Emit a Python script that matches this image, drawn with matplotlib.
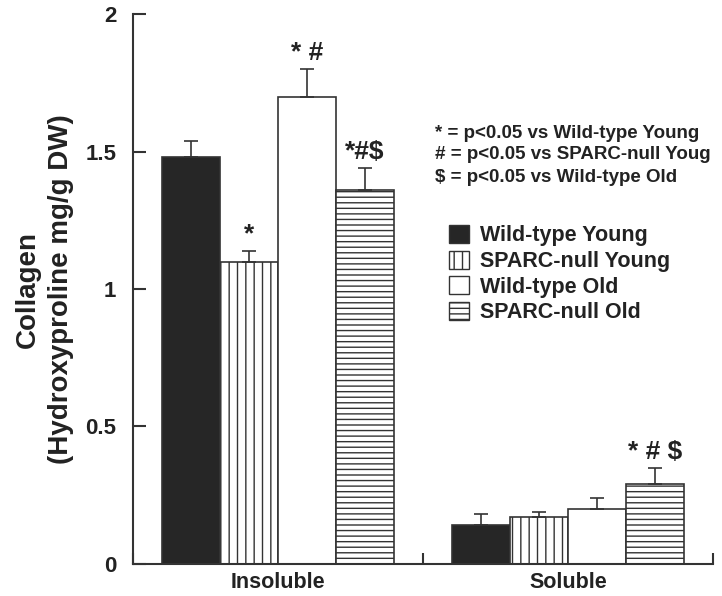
import matplotlib
matplotlib.use("Agg")
import matplotlib.pyplot as plt
import numpy as np
from matplotlib.patches import Patch

plt.rcParams['font.family'] = ['Liberation Sans', 'DejaVu Sans']
plt.rcParams['font.weight'] = 'bold'
plt.rcParams['hatch.linewidth'] = 1.0
plt.rcParams['hatch.color'] = '#333333'

categories = ["Insoluble", "Soluble"]
groups = ["Wild-type Young", "SPARC-null Young", "Wild-type Old", "SPARC-null Old"]
means = {
    "Wild-type Young":  [1.48, 0.14],
    "SPARC-null Young": [1.10, 0.17],
    "Wild-type Old":    [1.70, 0.20],
    "SPARC-null Old":   [1.36, 0.29],
}
errors = {
    "Wild-type Young":  [0.06, 0.04],
    "SPARC-null Young": [0.04, 0.02],
    "Wild-type Old":    [0.10, 0.04],
    "SPARC-null Old":   [0.08, 0.06],
}
marks = {
    "Wild-type Young":  ["", ""],
    "SPARC-null Young": ["*", ""],
    "Wild-type Old":    ["* #", ""],
    "SPARC-null Old":   ["*#$", "* # $"],
}
styles = {
    "Wild-type Young":  dict(facecolor="#262626", hatch=None),
    "SPARC-null Young": dict(facecolor="white", hatch="||"),
    "Wild-type Old":    dict(facecolor="white", hatch=None),
    "SPARC-null Old":   dict(facecolor="white", hatch="---"),
}
stats_note = ["* = p<0.05 vs Wild-type Young",
              "# = p<0.05 vs SPARC-null Youg",
              "$ = p<0.05 vs Wild-type Old"]

edge = "#333333"
txt = "#222222"
fig = plt.figure(figsize=(7.22, 5.96), dpi=100)
ax = fig.add_axes([0.184, 0.0537, 0.8035, 0.9228])

x = np.arange(len(categories))
width = 0.2
offsets = [-0.3, -0.1, 0.1, 0.3]
for g, off in zip(groups, offsets):
    st = styles[g]
    ax.bar(x + off, means[g], width, facecolor=st["facecolor"], edgecolor=edge,
           hatch=st["hatch"], linewidth=1.2, zorder=2)
    ax.errorbar(x + off, means[g], yerr=[np.zeros(len(x)), errors[g]], fmt='none',
                ecolor=edge, elinewidth=1.2, capsize=5, capthick=1.2, zorder=3)
    for xi, m, e, t in zip(x + off, means[g], errors[g], marks[g]):
        if t:
            ax.text(xi, m + e + 0.015, t, ha='center', va='bottom', fontsize=19,
                    fontweight='bold', color=txt)

ax.set_xlim(-0.5, 1.5)
ax.set_ylim(0, 2)
ax.set_yticks([0, 0.5, 1, 1.5, 2])
ax.set_yticklabels(["0", "0.5", "1", "1.5", "2"])
ax.set_xticks([-0.5, 0.5, 1.5])
ax.set_xticklabels(["", "", ""])
ax.set_xticks(x, minor=True)
ax.set_xticklabels(categories, minor=True)
ax.tick_params(axis='x', which='minor', length=0, labelsize=15.5, pad=6)
ax.tick_params(axis='x', which='major', direction='in', length=8, width=1.5, color=edge)
ax.tick_params(axis='y', direction='in', length=9, width=1.5, color=edge, labelsize=16, pad=12)
for lbl in ax.get_xticklabels(minor=True) + ax.get_yticklabels():
    lbl.set_fontweight('bold')
    lbl.set_color(txt)
for s in ['top', 'right']:
    ax.spines[s].set_visible(False)
for s in ['left', 'bottom']:
    ax.spines[s].set_linewidth(1.5)
    ax.spines[s].set_color(edge)

ax.set_ylabel("Collagen\n(Hydroxyproline mg/g DW)", fontsize=20, fontweight='bold',
              color=txt, labelpad=8, linespacing=1.35)

for i, line in enumerate(stats_note):
    fig.text(435 / 722, 1 - (133 + 22 * i) / 596, line, fontsize=13.5, fontweight='bold',
             va='center', ha='left', color=txt)

handles = [Patch(facecolor=styles[g]["facecolor"], edgecolor=edge,
                 hatch=styles[g]["hatch"], linewidth=1.0) for g in groups]
leg = ax.legend(handles, groups, loc='upper left',
                bbox_to_anchor=((449 - 133) / 580, (564 - 225) / 550),
                frameon=False, fontsize=15.5, handlelength=0.95, handleheight=0.9,
                handletextpad=0.5, labelspacing=0.2, borderaxespad=0, borderpad=0)
for t in leg.get_texts():
    t.set_fontweight('bold')
    t.set_color(txt)

fig.savefig("out.png", dpi=100)
